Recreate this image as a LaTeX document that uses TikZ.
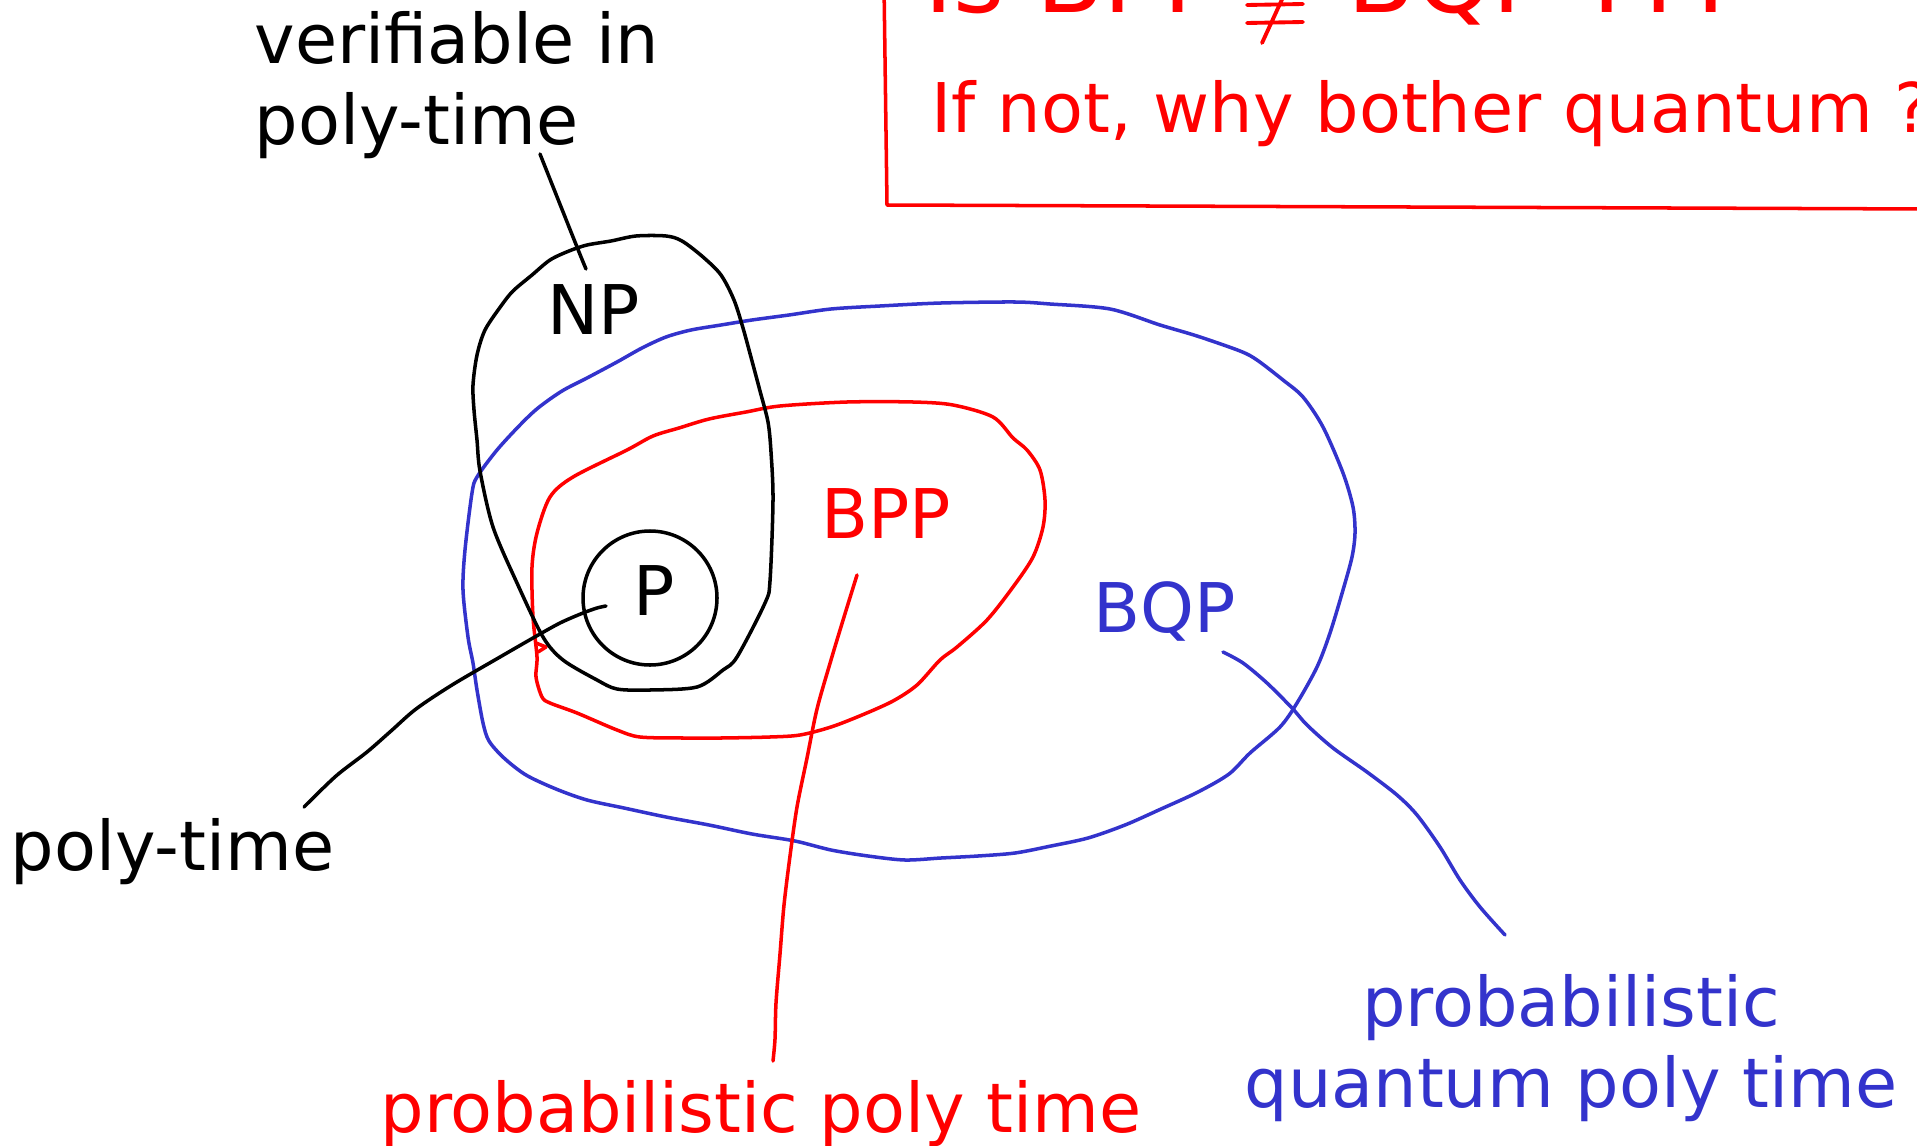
\documentclass[tikz,border=0pt]{standalone}
\usepackage{fontspec}
\setmainfont{DejaVu Sans}
\definecolor{cxRed}{HTML}{FF0000}
\definecolor{cxBlue}{HTML}{3333CC}
\tikzset{
  % hand-drawn look: round ends and joins everywhere
  every picture/.append style = {line width=1pt, line cap=round, line join=round},
  npline/.style  = {black,  line width=1pt},
  bppline/.style = {cxRed,  line width=1pt},
  bqpline/.style = {cxBlue, line width=1pt},
  boxline/.style = {cxRed,  line width=1pt},
  lbl/.style     = {font=\fontsize{19.5}{23}\selectfont, inner sep=0pt},
  qlbl/.style    = {font=\fontsize{28}{32}\selectfont, inner sep=0pt, cxRed},
}

\begin{document}
\begin{tikzpicture}[x=1cm,y=1cm]
  \useasboundingbox (0,0) rectangle (19.17,11.45);
  % question box, top right (runs off the page)
  \draw[boxline] (8.84,11.60) -- (8.87,9.40) -- (19.30,9.36);
  \node[qlbl, anchor=base west] (isbpp) at (9.23,11.32) {Is BPP};
  \node[qlbl, anchor=base west] (isbqp) at (13.46,11.32) {BQP ???};
  \draw[cxRed, line width=1.1pt] (12.47,11.40) -- (13.03,11.41)
        (12.47,11.22) -- (13.03,11.23) (12.84,11.50) -- (12.62,11.02);
  \node[lbl, cxRed, anchor=base west] (whyq) at (9.30,10.12)
        {If not, why bother quantum ?};
  % BQP: the big blue region
  \draw[bqpline] plot[smooth cycle, tension=0.5] coordinates {
    (10.50,8.41) (11.10,8.36) (11.60,8.20) (11.97,8.09) (12.40,7.94)
    (12.57,7.85) (12.83,7.65) (13.03,7.48) (13.23,7.18) (13.43,6.72)
    (13.53,6.38) (13.55,6.12) (13.52,5.88) (13.43,5.55) (13.30,5.12)
    (13.17,4.78) (12.97,4.42) (12.80,4.18) (12.50,3.92) (12.29,3.71)
    (11.98,3.53) (11.61,3.36) (11.25,3.20) (10.88,3.07) (10.51,2.99)
    (10.15,2.92) (9.78,2.89) (9.41,2.87) (9.05,2.85) (8.68,2.89)
    (8.31,2.95) (7.95,3.04) (7.52,3.11) (7.09,3.20) (6.66,3.28)
    (6.24,3.37) (5.87,3.45) (5.56,3.56) (5.26,3.70) (5.04,3.87)
    (4.89,4.04) (4.83,4.22) (4.77,4.55) (4.73,4.82) (4.68,5.08)
    (4.63,5.55) (4.65,5.95) (4.72,6.52) (4.77,6.68) (4.97,6.95)
    (5.20,7.20) (5.38,7.37) (5.62,7.54) (5.87,7.67) (6.17,7.83)
    (6.42,7.97) (6.66,8.08) (6.91,8.15) (7.21,8.20) (7.52,8.25)
    (7.89,8.30) (8.31,8.36) (8.80,8.39) (9.41,8.42) (10.15,8.43)};
  % BPP: red region inside BQP
  \draw[bppline] plot[smooth cycle, tension=0.5] coordinates {
    (7.80,7.39) (8.47,7.43) (9.13,7.43) (9.53,7.40) (9.93,7.28)
    (10.13,7.07) (10.27,6.95) (10.40,6.75) (10.45,6.45) (10.43,6.18)
    (10.33,5.88) (10.13,5.58) (9.87,5.25) (9.57,4.98) (9.40,4.85)
    (9.17,4.60) (8.93,4.44) (8.62,4.30) (8.31,4.18) (8.00,4.10)
    (7.70,4.08) (7.21,4.07) (6.83,4.07) (6.40,4.08) (6.17,4.15)
    (5.77,4.32) (5.50,4.42) (5.42,4.48) (5.36,4.68) (5.37,4.88)
    (5.33,5.28) (5.32,5.78) (5.37,6.12) (5.50,6.48) (5.73,6.68)
    (6.27,6.95) (6.53,7.09) (6.79,7.17) (7.09,7.26) (7.46,7.33)};
  \draw[bppline] (5.36,5.02) -- (5.46,4.98) -- (5.38,4.93);
  % NP: black region, top left
  \draw[npline] plot[smooth cycle, tension=0.5] coordinates {
    (6.11,9.04) (6.36,9.09) (6.66,9.09) (6.82,9.04) (7.03,8.88)
    (7.21,8.70) (7.34,8.45) (7.43,8.17) (7.52,7.84) (7.60,7.54)
    (7.68,7.23) (7.71,6.93) (7.73,6.45) (7.70,5.64) (7.65,5.42)
    (7.37,4.88) (7.23,4.75) (6.97,4.58) (6.50,4.55) (6.17,4.56)
    (5.97,4.65) (5.63,4.85) (5.43,5.08) (5.17,5.62) (4.93,6.18)
    (4.80,6.74) (4.77,7.05) (4.74,7.35) (4.73,7.60) (4.77,7.90)
    (4.85,8.15) (5.01,8.39) (5.13,8.54) (5.32,8.70) (5.50,8.85)
    (5.69,8.94) (5.87,9.00)};
  % P: small circle inside both
  \node[circle, draw, npline, minimum size=1.34cm, inner sep=0pt] (pset) at (6.50,5.47) {};
  \node[lbl, anchor=base] (plbl) at (6.54,5.30) {P};
  % class names
  \node[lbl, anchor=base] (nplbl) at (5.94,8.11) {NP};
  \node[lbl, cxRed, anchor=base] (bpplbl) at (8.86,6.07) {BPP};
  \node[lbl, cxBlue, anchor=base] (bqplbl) at (11.65,5.13) {BQP};
  % explanations and their pointers
  \node[lbl, anchor=north west, align=left] (npnote) at (2.53,11.35)
        {verifiable in\\poly-time};
  \node[lbl, anchor=base west] (pnote) at (0.09,2.75) {poly-time};
  \node[lbl, cxRed, anchor=base] (bppnote) at (7.61,0.13) {probabilistic poly time};
  \node[lbl, cxBlue, anchor=north, align=center] (bqpnote) at (15.71,1.72)
        {probabilistic\\quantum poly time};
  \coordinate (npFrom)  at (5.40,9.91);
  \coordinate (npTo)    at (5.86,8.76);
  \coordinate (pFrom)   at (3.04,3.38);
  \coordinate (pTo)     at (6.06,5.39);
  \coordinate (bppFrom) at (7.73,0.84);
  \coordinate (bppTo)   at (8.57,5.70);
  \coordinate (bqpFrom) at (15.05,2.10);
  \coordinate (bqpTo)   at (12.23,4.93);
  \draw[npline] plot[smooth] coordinates {(npFrom) (5.77,8.98) (npTo)};
  \draw[npline] plot[smooth] coordinates {(pFrom) (3.36,3.69) (3.67,3.93)
        (3.91,4.14) (4.16,4.36) (4.52,4.60) (5.00,4.88) (5.33,5.07)
        (5.60,5.22) (5.83,5.32) (5.97,5.37) (pTo)};
  \draw[bppline] plot[smooth] coordinates {(bppFrom) (7.75,1.06) (7.76,1.42)
        (7.80,1.91) (7.84,2.40) (7.90,2.89) (7.97,3.38) (8.07,3.87)
        (8.17,4.36) (8.31,4.85) (8.44,5.28) (bppTo)};
  \draw[bqpline] plot[smooth] coordinates {(bqpFrom) (14.80,2.38) (14.60,2.65)
        (14.40,2.98) (14.17,3.30) (13.97,3.50) (13.67,3.73) (13.33,3.97)
        (13.07,4.20) (12.92,4.37) (12.67,4.62) (12.43,4.82) (bqpTo)};
\end{tikzpicture}
\end{document}
